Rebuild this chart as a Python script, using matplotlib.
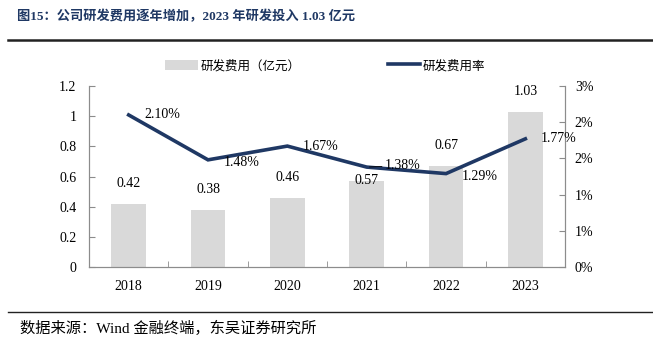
import matplotlib
matplotlib.use("Agg")
import matplotlib.pyplot as plt
from matplotlib.lines import Line2D
from matplotlib.patches import Patch
import numpy as np

plt.rcParams['font.family'] = ['Liberation Serif', 'Noto Sans CJK SC']

years = ["2018", "2019", "2020", "2021", "2022", "2023"]
rd_expense = [0.42, 0.38, 0.46, 0.57, 0.67, 1.03]      # 亿元
rd_ratio = [2.10, 1.48, 1.67, 1.38, 1.29, 1.77]        # %
left_ticks = [0, 0.2, 0.4, 0.6, 0.8, 1.0, 1.2]
left_tick_labels = ["0", "0.2", "0.4", "0.6", "0.8", "1", "1.2"]
right_ticks = [0, 0.5, 1.0, 1.5, 2.0, 2.5]
right_tick_labels = ["0%", "1%", "1%", "2%", "2%", "3%"]

title = "图15：公司研发费用逐年增加，2023 年研发投入 1.03 亿元"
source = "数据来源：Wind 金融终端，东吴证券研究所"

bar_color = "#d9d9d9"
line_color = "#1f3864"
title_color = "#1f3864"
spine_color = "#8c8c8c"

fig = plt.figure(figsize=(6.53, 3.47), dpi=100)
ax = fig.add_axes([0.1363, 0.2305, 0.729, 0.5217])
ax2 = ax.twinx()

x = np.arange(len(years))
bars = ax.bar(x, rd_expense, width=0.44, color=bar_color, zorder=1)
ax.set_xlim(-0.5, len(years) - 0.5)
ax.set_ylim(0, 1.2)
ax.set_yticks(left_ticks)
ax.set_yticklabels(left_tick_labels)
ax.set_xticks(x)
ax.set_xticklabels(years)
ax.set_xticks(np.arange(len(years) + 1) - 0.5, minor=True)
ax.tick_params(axis='x', which='major', length=0, pad=9, labelsize=10)
ax.tick_params(axis='x', which='minor', direction='in', length=4, color=spine_color)
ax.tick_params(axis='y', direction='in', length=4, color=spine_color, labelsize=10, pad=9)

ax2.plot(x, rd_ratio, color=line_color, linewidth=2.6, zorder=3, solid_joinstyle='miter')
ax2.set_ylim(0, 2.5)
ax2.set_yticks(right_ticks)
ax2.set_yticklabels(right_tick_labels)
ax2.tick_params(axis='y', direction='in', length=4, color=spine_color, labelsize=10, pad=7)

for a in (ax, ax2):
    a.spines['top'].set_visible(False)
    for side in ('left', 'right', 'bottom'):
        a.spines[side].set_color(spine_color)
        a.spines[side].set_linewidth(0.8)

# value labels on bars
bar_offsets = [10, 10, 10, -4, 10, 10]
for xi, v, off in zip(x, rd_expense, bar_offsets):
    ax.annotate(f"{v:.2f}", (xi, v), xytext=(0, off), textcoords='offset points',
                ha='center', va='bottom', fontsize=10, zorder=4)

# value labels on the ratio line
for i, (xi, v) in enumerate(zip(x, rd_ratio)):
    if i == 3:
        ax2.annotate(f"{v:.2f}%", (xi, v), xytext=(13, 1), textcoords='offset points',
                     ha='left', va='center', fontsize=10, zorder=4,
                     arrowprops=dict(arrowstyle='-', color='black', lw=0.6,
                                     shrinkA=0, shrinkB=2))
    else:
        dy = 0 if i in (0, 2, 5) else -2
        ax2.annotate(f"{v:.2f}%", (xi, v), xytext=(11, dy), textcoords='offset points',
                     ha='left', va='center', fontsize=10, zorder=4)

# legend
handles = [Patch(facecolor=bar_color, edgecolor='none'),
           Line2D([0], [0], color=line_color, linewidth=2.6)]
labels = ["研发费用（亿元）", "研发费用率"]
fig.legend(handles, labels, loc='center', bbox_to_anchor=(0.498, 0.81), ncol=2,
           frameon=False, fontsize=9, handlelength=2.6, handleheight=0.9,
           handletextpad=0.2, columnspacing=7.0)

# title and rules
fig.text(0.026, 0.953, title, fontsize=9.5, fontweight='bold', color=title_color,
         ha='left', va='center')
fig.add_artist(Line2D([0.012, 1.0], [0.885, 0.885], color='#222222', linewidth=1.8,
                      transform=fig.transFigure))
fig.add_artist(Line2D([0.012, 1.0], [0.101, 0.101], color='#222222', linewidth=1.0,
                      transform=fig.transFigure))
fig.text(0.031, 0.055, source, fontsize=11, color='black', ha='left', va='center')

fig.savefig("out.png", dpi=100)
